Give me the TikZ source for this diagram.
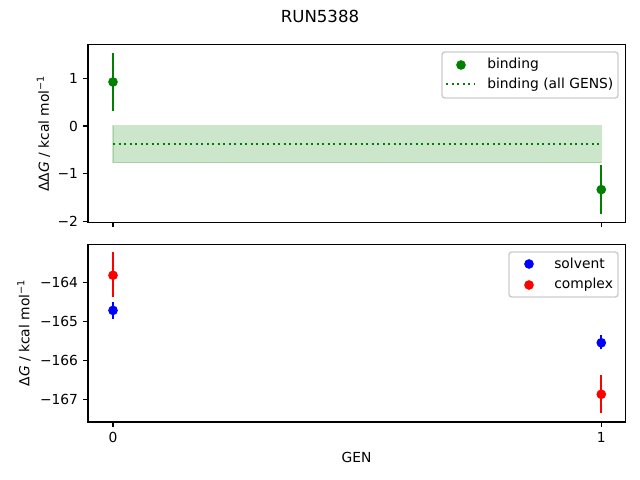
\documentclass[tikz,border=0pt]{standalone}
\usepackage{fontspec}
\setmainfont{DejaVu Sans}
\usetikzlibrary{positioning}
\definecolor{bindgreen}{RGB}{0, 128, 0}
\definecolor{solvblue}{RGB}{0, 0, 255}
\definecolor{cplxred}{RGB}{255, 0, 0}
\definecolor{framegray}{gray}{0.8}

\begin{document}
\begin{tikzpicture}[x=0.01in, y=-0.01in,
  axisframe/.style={draw=black, line width=0.8pt},
  tickmark/.style={draw=black, line width=0.8pt},
  ticklabel/.style={font=\fontsize{10}{12}\selectfont, inner sep=0pt},
  errbar/.style={line width=1.5pt},
  markdot/.style={circle, inner sep=0pt, minimum size=7pt},
  legbox/.style={draw=framegray, fill=white, fill opacity=0.8, rounded corners=2pt, line width=1pt},
  legtext/.style={font=\fontsize{10}{12}\selectfont, inner sep=0pt, anchor=base west}
]
  \useasboundingbox (0,0) rectangle (640,480);

  % Title and shared labels
  \node[font=\fontsize{12}{14}\selectfont, inner sep=0pt, anchor=base] (title) at (320,22.3) {RUN5388};
  \node[ticklabel, anchor=base] (xlab) at (356.5,462.3) {GEN};
  \node[ticklabel, rotate=90] (ylabtop) at (43.5,133.5) {ΔΔ\textit{G} / kcal mol\textsuperscript{−1}};
  \node[ticklabel, rotate=90] (ylabbot) at (24,333) {Δ\textit{G} / kcal mol\textsuperscript{−1}};

  % Upper panel: binding
  \begin{scope}[shift={(113,126)}, x=4.88in, y=0.478in]
    \fill[bindgreen, fill opacity=0.2] (0,0.005) rectangle (1,-0.765);
    \draw[bindgreen, draw opacity=0.2, line width=1pt] (0,0.005) rectangle (1,-0.765);
    \draw[bindgreen, line width=1.5pt, dash pattern=on 1.5pt off 2.475pt] (0,-0.38) -- (1,-0.38);

    \draw[errbar, bindgreen] (0,0.32) -- (0,1.52);
    \node[markdot, fill=bindgreen] (b0) at (0,0.92) {};
    \draw[errbar, bindgreen] (1,-1.84) -- (1,-0.82);
    \node[markdot, fill=bindgreen] (b1) at (1,-1.33) {};

    \draw[axisframe] (-0.0512,-2.01) rectangle (1.049,1.70);
    \foreach \gx in {0,1}
      \draw[tickmark] (\gx,-2.01) -- ++(0pt,-3.5pt);
    \foreach \gy/\glab in {1/1, 0/0, -1/−1, -2/−2} {
      \draw[tickmark] (-0.0512,\gy) -- ++(-3.5pt,0pt);
      \node[ticklabel, anchor=east] at ([xshift=-7pt]-0.0512,\gy) {\glab};
    }
  \end{scope}

  % Upper legend
  \draw[legbox] (442,52) rectangle (618,98);
  \node[markdot, fill=bindgreen] (legbind) at (461,65) {};
  \node[legtext] (legbindtxt) at (487,68.8) {binding};
  \coordinate (dotA) at (446,84.3);
  \coordinate (dotB) at (475,84.3);
  \draw[bindgreen, line width=1.5pt, dash pattern=on 1.5pt off 2.475pt] (dotA) -- (dotB);
  \node[legtext] (legalltxt) at (487,88.3) {binding (all GENS)};

  % Lower panel: solvent and complex
  \begin{scope}[shift={(113,282.3)}, x=4.88in, y=0.39in]
    \draw[errbar, solvblue] (0,-0.94) -- (0,-0.50);
    \node[markdot, fill=solvblue] (s0) at (0,-0.72) {};
    \draw[errbar, solvblue] (1,-1.72) -- (1,-1.36);
    \node[markdot, fill=solvblue] (s1) at (1,-1.55) {};

    \draw[errbar, cplxred] (0,-0.38) -- (0,0.78);
    \node[markdot, fill=cplxred] (c0) at (0,0.18) {};
    \draw[errbar, cplxred] (1,-3.36) -- (1,-2.38);
    \node[markdot, fill=cplxred] (c1) at (1,-2.87) {};

    \draw[axisframe] (-0.0512,-3.58) rectangle (1.049,0.98);
    \foreach \gx in {0,1} {
      \draw[tickmark] (\gx,-3.58) -- ++(0pt,-3.5pt);
      \node[ticklabel, anchor=north] at ([yshift=-7pt]\gx,-3.58) {\gx};
    }
    \foreach \gy/\glab in {0/−164, -1/−165, -2/−166, -3/−167} {
      \draw[tickmark] (-0.0512,\gy) -- ++(-3.5pt,0pt);
      \node[ticklabel, anchor=east] at ([xshift=-7pt]-0.0512,\gy) {\glab};
    }
  \end{scope}

  % Lower legend
  \draw[legbox] (509,252) rectangle (618,297);
  \node[markdot, fill=solvblue] (legsolv) at (529,264) {};
  \node[legtext] (legsolvtxt) at (554,269) {solvent};
  \node[markdot, fill=cplxred] (legcplx) at (529,285) {};
  \node[legtext] (legcplxtxt) at (554,288.3) {complex};
\end{tikzpicture}
\end{document}
